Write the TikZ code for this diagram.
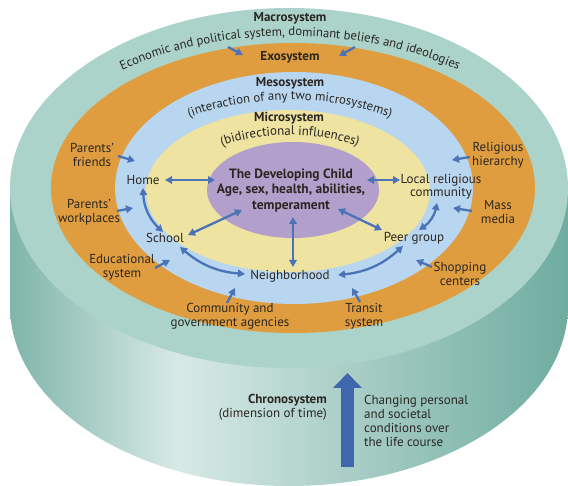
\documentclass[tikz,border=0pt]{standalone}
\usepackage{fontspec}
\setmainfont{PT Sans}
\usetikzlibrary{arrows.meta,decorations.text,calc}

\definecolor{macroC}{HTML}{ABD3C9}
\definecolor{exoC}{HTML}{DF9D40}
\definecolor{mesoC}{HTML}{B8D6EF}
\definecolor{microC}{HTML}{EEE3A0}
\definecolor{childC}{HTML}{B39FCB}
\definecolor{arrC}{HTML}{4A73B8}
\definecolor{bigC}{HTML}{3E67AE}
\definecolor{txtC}{HTML}{2B2622}
\definecolor{sideL}{HTML}{7FB5AA}
\definecolor{sideM}{HTML}{D7E9E5}
\definecolor{sideR}{HTML}{6FACA0}

% side of the cylinder: darker at both ends, light a third of the way across
\pgfdeclarehorizontalshading{sideshade}{100bp}{color(0bp)=(sideL); color(25bp)=(sideL); color(40bp)=(sideM); color(75bp)=(sideR); color(100bp)=(sideR)}

\tikzset{
  lab/.style={font=\fontsize{13}{14}\selectfont, text=txtC, align=center, inner sep=0pt},
  ttl/.style={font=\fontsize{13}{15}\selectfont\bfseries, text=txtC, align=center, inner sep=0pt},
  conn/.style={draw=arrC, line width=2.3pt, -{Triangle[length=7pt,width=7.5pt]}},
  dbl/.style={draw=arrC, line width=2.3pt, {Triangle[length=7pt,width=7.5pt]}-{Triangle[length=7pt,width=7.5pt]}},
  arctext/.style={decorate, decoration={text along path, text align=center, text={#1}}}
}

\begin{document}
\begin{tikzpicture}[x=1pt,y=-1pt]
\useasboundingbox (0,0) rectangle (568,486);
\begin{scope}
\clip (0,0) rectangle (568,486);

% cylinder side and the nested rings on its top face
\path[shading=sideshade] (10,188) -- (10,306)
  arc[start angle=180, end angle=360, x radius=279pt, y radius=180pt] -- (568,188) -- cycle;
\fill[macroC] (289,188) ellipse[x radius=279pt, y radius=180pt];
\fill[exoC]   (293,188) ellipse[x radius=242pt, y radius=145pt];
\fill[mesoC]  (294,188) ellipse[x radius=179pt, y radius=116pt];
\fill[microC] (288,191) ellipse[x radius=142pt, y radius=81pt];
\fill[childC] (293,190) ellipse[x radius=86pt, y radius=48pt];

% ring titles
\node[ttl] (macro) at (290,18) {Macrosystem};
\node[ttl] (exo)   at (290,57) {Exosystem};
\node[ttl] (meso)  at (290,83) {Mesosystem};
\node[ttl] (micro) at (289,118) {Microsystem};

% curved captions, set on their baseline arcs
\path[arctext={|\color{txtC}\fontsize{12.7}{13}\selectfont|Economic and political system, dominant beliefs and ideologies}]
  (290,188) ++(170:266pt and 152pt) arc[start angle=170, end angle=10, x radius=266pt, y radius=152pt];
\path[arctext={|\color{txtC}\fontsize{12.8}{13}\selectfont|(interaction of any two microsystems)}]
  (290,190) ++(170:170pt and 90pt) arc[start angle=170, end angle=10, x radius=170pt, y radius=90pt];
\path[arctext={|\color{txtC}\fontsize{13}{13}\selectfont|(bidirectional influences)}]
  (290,190) ++(170:112pt and 55pt) arc[start angle=170, end angle=10, x radius=112pt, y radius=55pt];

% the child
\node[ttl, font=\fontsize{13.5}{15.5}\selectfont\bfseries] (child) at (291,190.5)
  {The Developing Child\\Age, sex, health, abilities,\\temperament};

% microsystem settings
\node[lab] (home)   at (143,180) {Home};
\node[lab] (school) at (165,238) {School};
\node[lab] (neigh)  at (290,276) {Neighborhood};
\node[lab] (peer)   at (414,238) {Peer group};
\node[lab, font=\fontsize{13}{13.5}\selectfont] (lrc) at (441,186.5) {Local religious\\community};

% exosystem settings
\node[lab] (pf) at (92,154.5)  {Parents’\\friends};
\node[lab] (pw) at (89,212.5)  {Parents’\\workplaces};
\node[lab] (es) at (122,267)   {Educational\\system};
\node[lab] (cg) at (230,316.5) {Community and\\government agencies};
\node[lab] (ts) at (364,316.5) {Transit\\system};
\node[lab] (sc) at (460,274)   {Shopping\\centers};
\node[lab] (mm) at (498,212.5) {Mass\\media};
\node[lab] (rh) at (498,155)   {Religious\\hierarchy};

% chronosystem
\node[lab, align=right, anchor=east] (chrono) at (327,407)
  {\textbf{Chronosystem}\\(dimension of time)};
\node[lab, align=left, anchor=west] (change) at (364,421)
  {Changing personal\\and societal\\conditions over\\the life course};

% arrow end points
\coordinate (mlA) at (228,47);  \coordinate (mlB) at (243,55);
\coordinate (mrA) at (355,47);  \coordinate (mrB) at (339,56);
\coordinate (pfA) at (118,156); \coordinate (pfB) at (135,161);
\coordinate (pwA) at (117,211); \coordinate (pwB) at (133,208);
\coordinate (esA) at (155,268); \coordinate (esB) at (170,260);
\coordinate (cgA) at (227,303); \coordinate (cgB) at (235,288);
\coordinate (tsA) at (360,302); \coordinate (tsB) at (352,288);
\coordinate (scA) at (432,267); \coordinate (scB) at (416,260);
\coordinate (mmA) at (472,211); \coordinate (mmB) at (453,208);
\coordinate (rhA) at (470,157); \coordinate (rhB) at (452,160);

\coordinate (homeR) at (165,180);   \coordinate (childL) at (215,180);
\coordinate (lrcL) at (400,180);    \coordinate (childR) at (367,180);
\coordinate (neighT) at (293,267);  \coordinate (childB) at (293,217);
\coordinate (schoolR) at (188,235); \coordinate (childSW) at (242,210);
\coordinate (peerL) at (382,230);   \coordinate (childSE) at (338,209);
\coordinate (homeB) at (143,188);   \coordinate (schoolT) at (163,232);
\coordinate (schoolB) at (180,247); \coordinate (neighL) at (245,274);
\coordinate (neighR) at (338,275);  \coordinate (peerB) at (403,246);
\coordinate (peerR) at (419,230);   \coordinate (lrcB) at (437,203);

% influences reaching inward
\draw[conn] (mlA) -- (mlB);
\draw[conn] (mrA) -- (mrB);
\draw[conn] (pfA) -- (pfB);
\draw[conn] (pwA) -- (pwB);
\draw[conn] (esA) -- (esB);
\draw[conn] (cgA) -- (cgB);
\draw[conn] (tsA) -- (tsB);
\draw[conn] (scA) -- (scB);
\draw[conn] (mmA) -- (mmB);
\draw[conn] (rhA) -- (rhB);

% bidirectional links
\draw[dbl] (homeR) -- (childL);
\draw[dbl] (lrcL) -- (childR);
\draw[dbl] (neighT) -- (childB);
\draw[dbl] (schoolR) -- (childSW);
\draw[dbl] (peerL) -- (childSE);
\draw[dbl] (homeB) to[bend right=22] (schoolT);
\draw[dbl] (schoolB) to[bend right=18] (neighL);
\draw[dbl] (neighR) to[bend right=18] (peerB);
\draw[dbl] (peerR) to[bend right=22] (lrcB);

% time arrow
\coordinate (tBase) at (347.5,467);
\coordinate (tTip) at (347.5,373);
\draw[draw=bigC, line width=13pt, -{Triangle[length=15pt,width=28pt]}] (tBase) -- (tTip);
\end{scope}
\end{tikzpicture}
\end{document}
